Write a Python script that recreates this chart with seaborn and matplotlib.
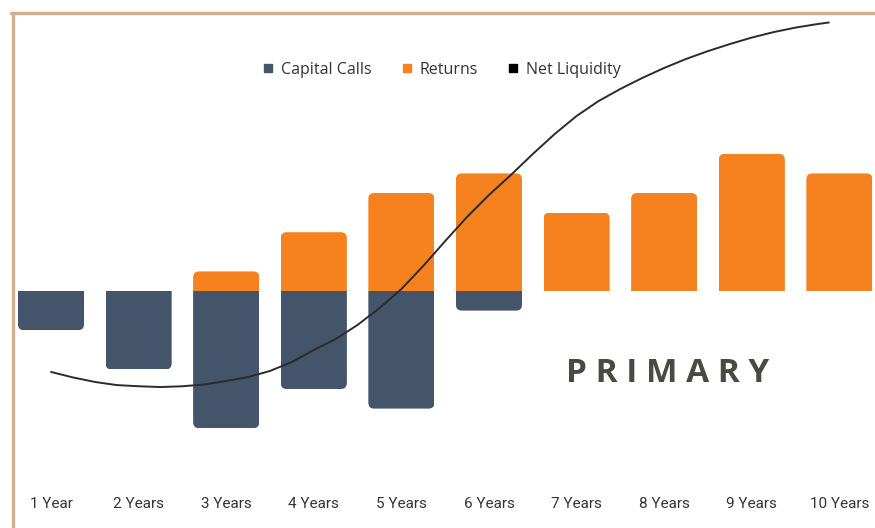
import numpy as np
import pandas as pd
import seaborn as sns
import matplotlib.pyplot as plt
from matplotlib.lines import Line2D
from matplotlib.patches import FancyBboxPatch, Rectangle

# chart data
years = ['1 Year', '2 Years', '3 Years', '4 Years', '5 Years',
         '6 Years', '7 Years', '8 Years', '9 Years', '10 Years']
capital_calls = [-2, -4, -7, -5, -6, -1, 0, 0, 0, 0]
returns = [0, 0, 1, 3, 5, 6, 4, 5, 7, 6]

# net liquidity curve (x in year slots, 0 = first year)
liq_x = [0, 0.25, 0.5, 0.75, 1, 1.25, 1.5, 1.75, 2, 2.25, 2.5, 2.75,
         3, 3.25, 3.5, 3.75, 4, 4.25, 4.5, 4.75, 5, 5.25, 5.5, 5.75,
         6, 6.25, 6.5, 6.75, 7, 7.25, 7.5, 7.75, 8, 8.25, 8.5, 8.75, 8.88]
liq_y = [-4.13, -4.41, -4.64, -4.80, -4.86, -4.90, -4.86, -4.77, -4.59, -4.39,
         -4.08, -3.62, -3.01, -2.45, -1.73, -0.87, 0.10, 1.28, 2.55, 3.78,
         4.90, 5.92, 6.99, 8.01, 8.93, 9.69, 10.31, 10.87, 11.38, 11.84,
         12.24, 12.60, 12.93, 13.21, 13.44, 13.62, 13.70]

navy = '#44546A'
orange = '#F5821F'

df = pd.DataFrame({
    'pos': list(range(len(years))) * 2,
    'kind': ['Capital Calls'] * len(years) + ['Returns'] * len(years),
    'value': capital_calls + returns,
})

sns.set_theme(style='white')
plt.rcParams['font.family'] = ['Roboto', 'DejaVu Sans']

fig = plt.figure(figsize=(8.75, 5.28), dpi=100)
ax = fig.add_axes([0, 43 / 528, 1, 485 / 528])

sns.barplot(data=df, x='pos', y='value', hue='kind', dodge=False, width=0.755,
            palette={'Capital Calls': navy, 'Returns': orange}, saturation=1,
            errorbar=None, legend=False, ax=ax)

# swap the square bars for ones rounded at the outer end
px_x, px_y = 87.6, 19.6
r_x = 6 / px_x
aspect = px_x / px_y
for p in list(ax.patches):
    h = p.get_height()
    if h == 0:
        p.remove()
        continue
    x0, w, y0 = p.get_x(), p.get_width(), p.get_y()
    lo, hi = sorted([y0, y0 + h])
    ext = 2 * r_x * aspect
    blo, bhi = (lo - ext, hi) if h > 0 else (lo, hi + ext)
    fb = FancyBboxPatch((x0, blo), w, bhi - blo,
                        boxstyle=f'round,pad=0,rounding_size={r_x}',
                        mutation_aspect=aspect, fc=p.get_facecolor(), ec='none')
    ax.add_patch(fb)
    fb.set_clip_path(Rectangle((x0, lo), w, hi - lo, transform=ax.transData))
    p.remove()

sns.lineplot(x=liq_x, y=liq_y, color='#2b2b2b', linewidth=1.4, ax=ax, zorder=5)

ax.set_xlim(-51 / px_x, (875 - 51) / px_x)
ax.set_ylim((291 - 485) / px_y, 291 / px_y)
ax.set_xticks(range(len(years)))
ax.set_xticklabels(years, fontsize=11, color='#333333')
ax.set_yticks([])
ax.tick_params(axis='x', length=0, pad=9)
ax.set_xlabel('')
ax.set_ylabel('')
for s in ax.spines.values():
    s.set_visible(False)
ax.patch.set_alpha(0)

ax.text(668 / 875, 1 - 374 / 528, 'P R I M A R Y', transform=fig.transFigure,
        ha='center', va='center', fontsize=24, fontweight='bold',
        color='#4a4a45', family=['Open Sans', 'DejaVu Sans'])

handles = [Line2D([], [], marker='s', linestyle='', color=c, markersize=6)
           for c in (navy, orange, 'black')]
fig.legend(handles, ['Capital Calls', 'Returns', 'Net Liquidity'], loc='center',
           bbox_to_anchor=(441 / 875, 1 - 70 / 528), ncol=3, frameon=False,
           handlelength=0.8, handletextpad=0.4, columnspacing=1.8,
           prop={'family': ['Open Sans', 'DejaVu Sans'], 'size': 11.5},
           labelcolor='#333333')

# tan frame, cut off at right and bottom
border = '#D4AC8E'
fig.add_artist(Line2D([12.5 / 875, 12.5 / 875], [0, 1 - 12.5 / 528],
                      color=border, linewidth=2.4, transform=fig.transFigure))
fig.add_artist(Line2D([11 / 875, 1], [1 - 12.5 / 528, 1 - 12.5 / 528],
                      color=border, linewidth=2.4, transform=fig.transFigure))

plt.savefig('out.png', dpi=100)
